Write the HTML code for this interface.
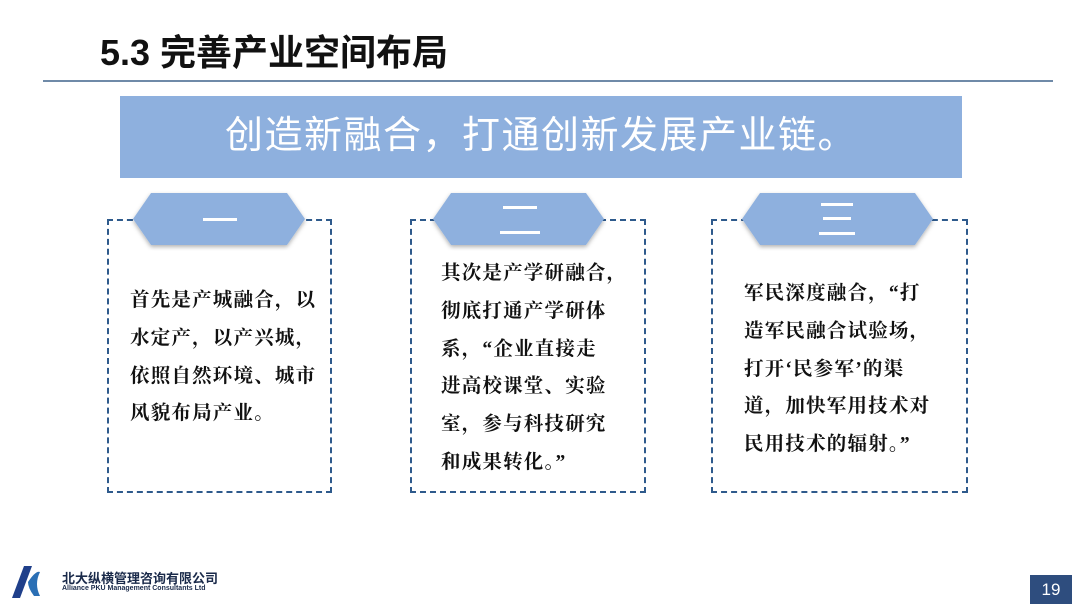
<!DOCTYPE html>
<html><head><meta charset="utf-8"><style>
*{margin:0;padding:0;box-sizing:border-box}
body{width:1080px;height:608px;background:#fff;position:relative;overflow:hidden;font-family:"Liberation Sans","Noto Sans CJK SC",sans-serif}
.a{position:absolute}
.title{left:100px;top:24px;font-size:36px;font-weight:bold;color:#111;letter-spacing:0px}
.line{left:43px;top:80px;width:1010px;height:2px;background:#6f8aa8}
.banner{left:120px;top:96px;width:842px;height:82px;background:#8eb0de;color:#fff;font-size:38px;text-align:center;line-height:80px;letter-spacing:1.5px}
.box{border:2px dashed #2e5a8c}
.txt{font-family:"Liberation Serif","Noto Serif CJK SC",serif;font-weight:bold;font-size:19.5px;line-height:37.8px;color:#111;white-space:nowrap;letter-spacing:1.2px}
</style></head><body>
<div class="a title">5.3 完善产业空间布局</div>
<div class="a line"></div>
<div class="a banner">创造新融合，打通创新发展产业链。</div>

<div class="a box" style="left:107px;top:219px;width:225px;height:274px"></div>
<div class="a box" style="left:410px;top:219px;width:236px;height:274px"></div>
<div class="a box" style="left:711px;top:219px;width:257px;height:274px"></div>

<svg class="a" style="left:0;top:0" width="1080" height="608">
<defs><filter id="s"><feDropShadow dx="0" dy="2" stdDeviation="2" flood-opacity="0.3"/></filter></defs>
<g fill="#8eb0de" filter="url(#s)">
<polygon points="133,219 151,193 287,193 305,219 287,245 151,245"/>
<polygon points="433,219 451,193 586,193 604,219 586,245 451,245"/>
<polygon points="742,219 760,193 915,193 933,219 915,245 760,245"/>
</g>
<g fill="#fff"><rect x="203" y="218" width="34" height="3"/>
<rect x="503" y="206" width="34" height="3"/><rect x="500" y="231" width="40" height="3"/>
<rect x="821" y="203" width="32" height="3"/><rect x="823" y="217" width="28" height="3"/><rect x="819" y="232" width="36" height="3"/></g>
</svg>

<div class="a txt" style="left:130px;top:282px">首先是产城融合，以<br>水定产，以产兴城，<br>依照自然环境、城市<br>风貌布局产业。</div>
<div class="a txt" style="left:441px;top:255px">其次是产学研融合，<br>彻底打通产学研体<br>系，“企业直接走<br>进高校课堂、实验<br>室，参与科技研究<br>和成果转化。”</div>
<div class="a txt" style="left:744px;top:275px">军民深度融合，“打<br>造军民融合试验场，<br>打开‘民参军’的渠<br>道，加快军用技术对<br>民用技术的辐射。”</div>

<svg class="a" style="left:10px;top:564px" width="50" height="36"><polygon points="2,34 14,2 22,2 10,34" fill="#1f3f8a"/><path d="M18,18 Q26,6 30,8 Q24,20 30,32 L24,32 Q18,24 18,18Z" fill="#2a6fb5"/></svg>
<div class="a" style="left:62px;top:568px;font-size:13px;font-weight:bold;color:#1a2a4a">北大纵横管理咨询有限公司</div>
<div class="a" style="left:62px;top:585px;font-size:7px;font-weight:bold;color:#1a2a4a">Alliance PKU Management Consultants Ltd</div>
<div class="a" style="left:1030px;top:575px;width:42px;height:29px;background:#2e4d7e;color:#fff;font-size:17px;text-align:center;line-height:29px">19</div>
</body></html>
